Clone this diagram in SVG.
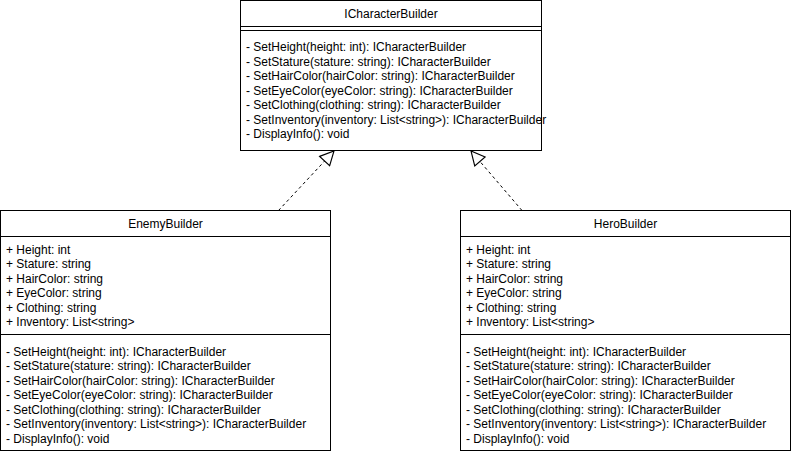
<svg xmlns="http://www.w3.org/2000/svg" width="791" height="454" viewBox="0 0 791 454">
  <style>
    .box { fill: #ffffff; stroke: #000000; stroke-width: 1; }
    .sep { stroke: #000000; stroke-width: 1; fill: none; }
    .title { font-family: "Liberation Sans", Arial, sans-serif; font-size: 12px; font-weight: normal; fill: #000000; text-anchor: middle; }
    .member { font-family: "Liberation Sans", Arial, sans-serif; font-size: 12px; fill: #000000; }
    .dep { stroke: #000000; stroke-width: 1; fill: none; stroke-dasharray: 3 3; }
  </style>
  <defs>
    <marker id="hollowTri" markerUnits="userSpaceOnUse" markerWidth="16" markerHeight="16" viewBox="-1 -7 14 14" refX="12" refY="0" orient="auto">
      <path d="M0,-6 L12,0 L0,6 Z" fill="#ffffff" stroke="#000000" stroke-width="1"/>
    </marker>
  </defs>
  <rect x="0" y="0" width="791" height="454" fill="#ffffff"/>

  <g id="connectors">
    <path class="dep" d="M278.5,210.5 L334,151" marker-end="url(#hollowTri)"/>
    <path class="dep" d="M522,210.5 L471,151" marker-end="url(#hollowTri)"/>
  </g>

  <g id="ICharacterBuilder">
    <rect class="box" x="240.5" y="0.5" width="301" height="150"/>
    <line class="sep" x1="240.5" y1="26.5" x2="541.5" y2="26.5"/>
    <line class="sep" x1="240.5" y1="30.5" x2="541.5" y2="30.5"/>
    <text class="title" x="391" y="17.5">ICharacterBuilder</text>
    <text class="member" x="246" y="51.2">- SetHeight(height: int): ICharacterBuilder</text>
    <text class="member" x="246" y="65.7">- SetStature(stature: string): ICharacterBuilder</text>
    <text class="member" x="246" y="80.2">- SetHairColor(hairColor: string): ICharacterBuilder</text>
    <text class="member" x="246" y="94.7">- SetEyeColor(eyeColor: string): ICharacterBuilder</text>
    <text class="member" x="246" y="109.2">- SetClothing(clothing: string): ICharacterBuilder</text>
    <text class="member" x="246" y="123.7">- SetInventory(inventory: List&lt;string&gt;): ICharacterBuilder</text>
    <text class="member" x="246" y="138.2">- DisplayInfo(): void</text>
  </g>

  <g id="EnemyBuilder">
    <rect class="box" x="0.5" y="210.5" width="330" height="240"/>
    <line class="sep" x1="0.5" y1="236.5" x2="330.5" y2="236.5"/>
    <line class="sep" x1="0.5" y1="334.5" x2="330.5" y2="334.5"/>
    <text class="title" x="165.5" y="227.5">EnemyBuilder</text>
    <text class="member" x="6" y="253.7">+ Height: int</text>
    <text class="member" x="6" y="268.2">+ Stature: string</text>
    <text class="member" x="6" y="282.7">+ HairColor: string</text>
    <text class="member" x="6" y="297.2">+ EyeColor: string</text>
    <text class="member" x="6" y="311.7">+ Clothing: string</text>
    <text class="member" x="6" y="326.2">+ Inventory: List&lt;string&gt;</text>
    <text class="member" x="6" y="355.7">- SetHeight(height: int): ICharacterBuilder</text>
    <text class="member" x="6" y="370.2">- SetStature(stature: string): ICharacterBuilder</text>
    <text class="member" x="6" y="384.7">- SetHairColor(hairColor: string): ICharacterBuilder</text>
    <text class="member" x="6" y="399.2">- SetEyeColor(eyeColor: string): ICharacterBuilder</text>
    <text class="member" x="6" y="413.7">- SetClothing(clothing: string): ICharacterBuilder</text>
    <text class="member" x="6" y="428.2">- SetInventory(inventory: List&lt;string&gt;): ICharacterBuilder</text>
    <text class="member" x="6" y="442.7">- DisplayInfo(): void</text>
  </g>

  <g id="HeroBuilder">
    <rect class="box" x="460.5" y="210.5" width="330" height="240"/>
    <line class="sep" x1="460.5" y1="236.5" x2="790.5" y2="236.5"/>
    <line class="sep" x1="460.5" y1="334.5" x2="790.5" y2="334.5"/>
    <text class="title" x="625.5" y="227.5">HeroBuilder</text>
    <text class="member" x="466" y="253.7">+ Height: int</text>
    <text class="member" x="466" y="268.2">+ Stature: string</text>
    <text class="member" x="466" y="282.7">+ HairColor: string</text>
    <text class="member" x="466" y="297.2">+ EyeColor: string</text>
    <text class="member" x="466" y="311.7">+ Clothing: string</text>
    <text class="member" x="466" y="326.2">+ Inventory: List&lt;string&gt;</text>
    <text class="member" x="466" y="355.7">- SetHeight(height: int): ICharacterBuilder</text>
    <text class="member" x="466" y="370.2">- SetStature(stature: string): ICharacterBuilder</text>
    <text class="member" x="466" y="384.7">- SetHairColor(hairColor: string): ICharacterBuilder</text>
    <text class="member" x="466" y="399.2">- SetEyeColor(eyeColor: string): ICharacterBuilder</text>
    <text class="member" x="466" y="413.7">- SetClothing(clothing: string): ICharacterBuilder</text>
    <text class="member" x="466" y="428.2">- SetInventory(inventory: List&lt;string&gt;): ICharacterBuilder</text>
    <text class="member" x="466" y="442.7">- DisplayInfo(): void</text>
  </g>
</svg>
